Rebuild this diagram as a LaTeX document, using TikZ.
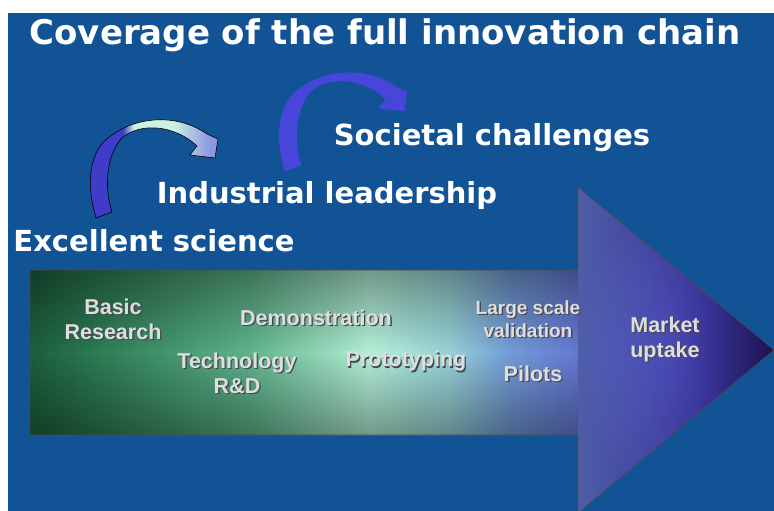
\documentclass[tikz,border=0pt]{standalone}
\usepackage{fontspec}
\setmainfont{DejaVu Sans}
\newfontfamily\arialfont{Liberation Sans}
\usetikzlibrary{fadings}

\definecolor{slideblue}{RGB}{18,83,150}
\definecolor{labelgray}{RGB}{222,222,222}
\definecolor{shadowgray}{RGB}{70,72,80}
\definecolor{curlblue}{RGB}{62,60,200}
\definecolor{curlblueb}{RGB}{72,70,218}
\definecolor{curlmint}{RGB}{205,242,225}
\definecolor{curllav}{RGB}{140,150,225}
\definecolor{chaina}{RGB}{28,95,62}
\definecolor{chainb}{RGB}{45,125,85}
\definecolor{chainc}{RGB}{95,180,140}
\definecolor{chaind}{RGB}{180,240,215}
\definecolor{chaine}{RGB}{150,210,215}
\definecolor{chainf}{RGB}{115,155,215}
\definecolor{chaing}{RGB}{95,108,210}
\definecolor{chainh}{RGB}{65,60,170}
\definecolor{chaini}{RGB}{35,25,105}

\pgfdeclarehorizontalshading{chainshade}{100bp}{color(0bp)=(chaina); color(25bp)=(chaina);
  color(29.7bp)=(chainb); color(39.8bp)=(chainc); color(47.8bp)=(chaind);
  color(53.2bp)=(chaine); color(57.3bp)=(chainf); color(63.3bp)=(chaing);
  color(70bp)=(chainh); color(75bp)=(chaini); color(100bp)=(chaini)}
\pgfdeclarehorizontalshading{curlshade}{100bp}{color(0bp)=(curlblue); color(39bp)=(curlblue);
  color(43bp)=(curlmint); color(58bp)=(curlmint); color(72bp)=(curllav); color(100bp)=(curllav)}
\tikzfading[name=bodyrim, top color=transparent!20, bottom color=transparent!20,
  middle color=transparent!100]
\tikzfading[name=headrim, inner color=transparent!100, outer color=transparent!30]

% light label with a dark drop shadow
\newcommand\shadowed[1]{\rlap{\kern1.3pt\raisebox{-1.3pt}{\color{shadowgray}#1}}#1}

\begin{document}
\begin{tikzpicture}[x=1pt,y=-1pt,
  headline/.style={text=white, font=\fontsize{34}{40}\selectfont\bfseries},
  stage/.style={text=white, font=\fontsize{29}{34}\selectfont\bfseries},
  phase/.style={text=labelgray, align=center, font=\arialfont\fontsize{21.5}{25}\selectfont\bfseries},
  curl/.style={draw=black, line width=0.6pt}]

% Slide background
\useasboundingbox (0,0) rectangle (774,511);
\fill[white] (0,0) rectangle (774,511);
\fill[slideblue] (8,13) rectangle (774,511);

% Big chain arrow
\shade[shading=chainshade] (30,270) -- (578,270) -- (578,187)
  -- (774,350) -- (578,513) -- (578,435) -- (30,435) -- cycle;
% darker rims
\fill[black, fill opacity=0.45, path fading=bodyrim] (30,270) rectangle (578,435);
\fill[black, fill opacity=0.3, path fading=headrim] (578,187) -- (774,350) -- (578,513) -- cycle;
\draw[black!70, line width=0.6pt] (30,270) -- (578,270) -- (578,187)
  -- (774,350) -- (578,513) -- (578,435) -- (30,435) -- cycle;

% Curved arrows between the pillars
\shade[curl, shading=curlshade] (96,218) .. controls (86,185) and (88,150) .. (112,135)
  .. controls (135,118) and (175,112) .. (207,134) -- (218,139) -- (215,158) -- (190,155)
  -- (197,146) .. controls (175,125) and (140,122) .. (122,138)
  .. controls (108,152) and (103,185) .. (112,212) -- cycle;
\begin{scope}[shift={(189,-47)}]
  \fill[curl, curlblueb] (96,218) .. controls (86,185) and (88,150) .. (112,135)
    .. controls (135,118) and (175,112) .. (207,134) -- (218,139) -- (215,158) -- (190,155)
    -- (197,146) .. controls (175,125) and (140,122) .. (122,138)
    .. controls (108,152) and (103,185) .. (112,212) -- cycle;
\end{scope}

% Titles
\node[headline] (title) at (385,35) {Coverage of the full innovation chain};
\node[stage] (excellent) at (154,241) {Excellent science};
\node[stage] (industrial) at (327,195) {Industrial leadership};
\node[stage] (societal) at (492,138) {Societal challenges};

% Phases along the chain
\node[phase] (basic) at (113,320) {\shadowed{Basic}\\\shadowed{Research}};
\node[phase] (demo) at (316,318) {\shadowed{Demonstration}};
\node[phase] (techrd) at (237,374) {\shadowed{Technology}\\\shadowed{R\&D}};
\node[phase] (proto) at (406,362) {\shadowed{Prototyping}};
\node[phase, font=\arialfont\fontsize{19}{23}\selectfont\bfseries] (largescale) at (528,320)
  {\shadowed{Large scale}\\\shadowed{validation}};
\node[phase] (pilots) at (533,374) {\shadowed{Pilots}};
\node[phase] (market) at (665,340) {\shadowed{Market}\\\shadowed{uptake}};
\end{tikzpicture}
\end{document}
